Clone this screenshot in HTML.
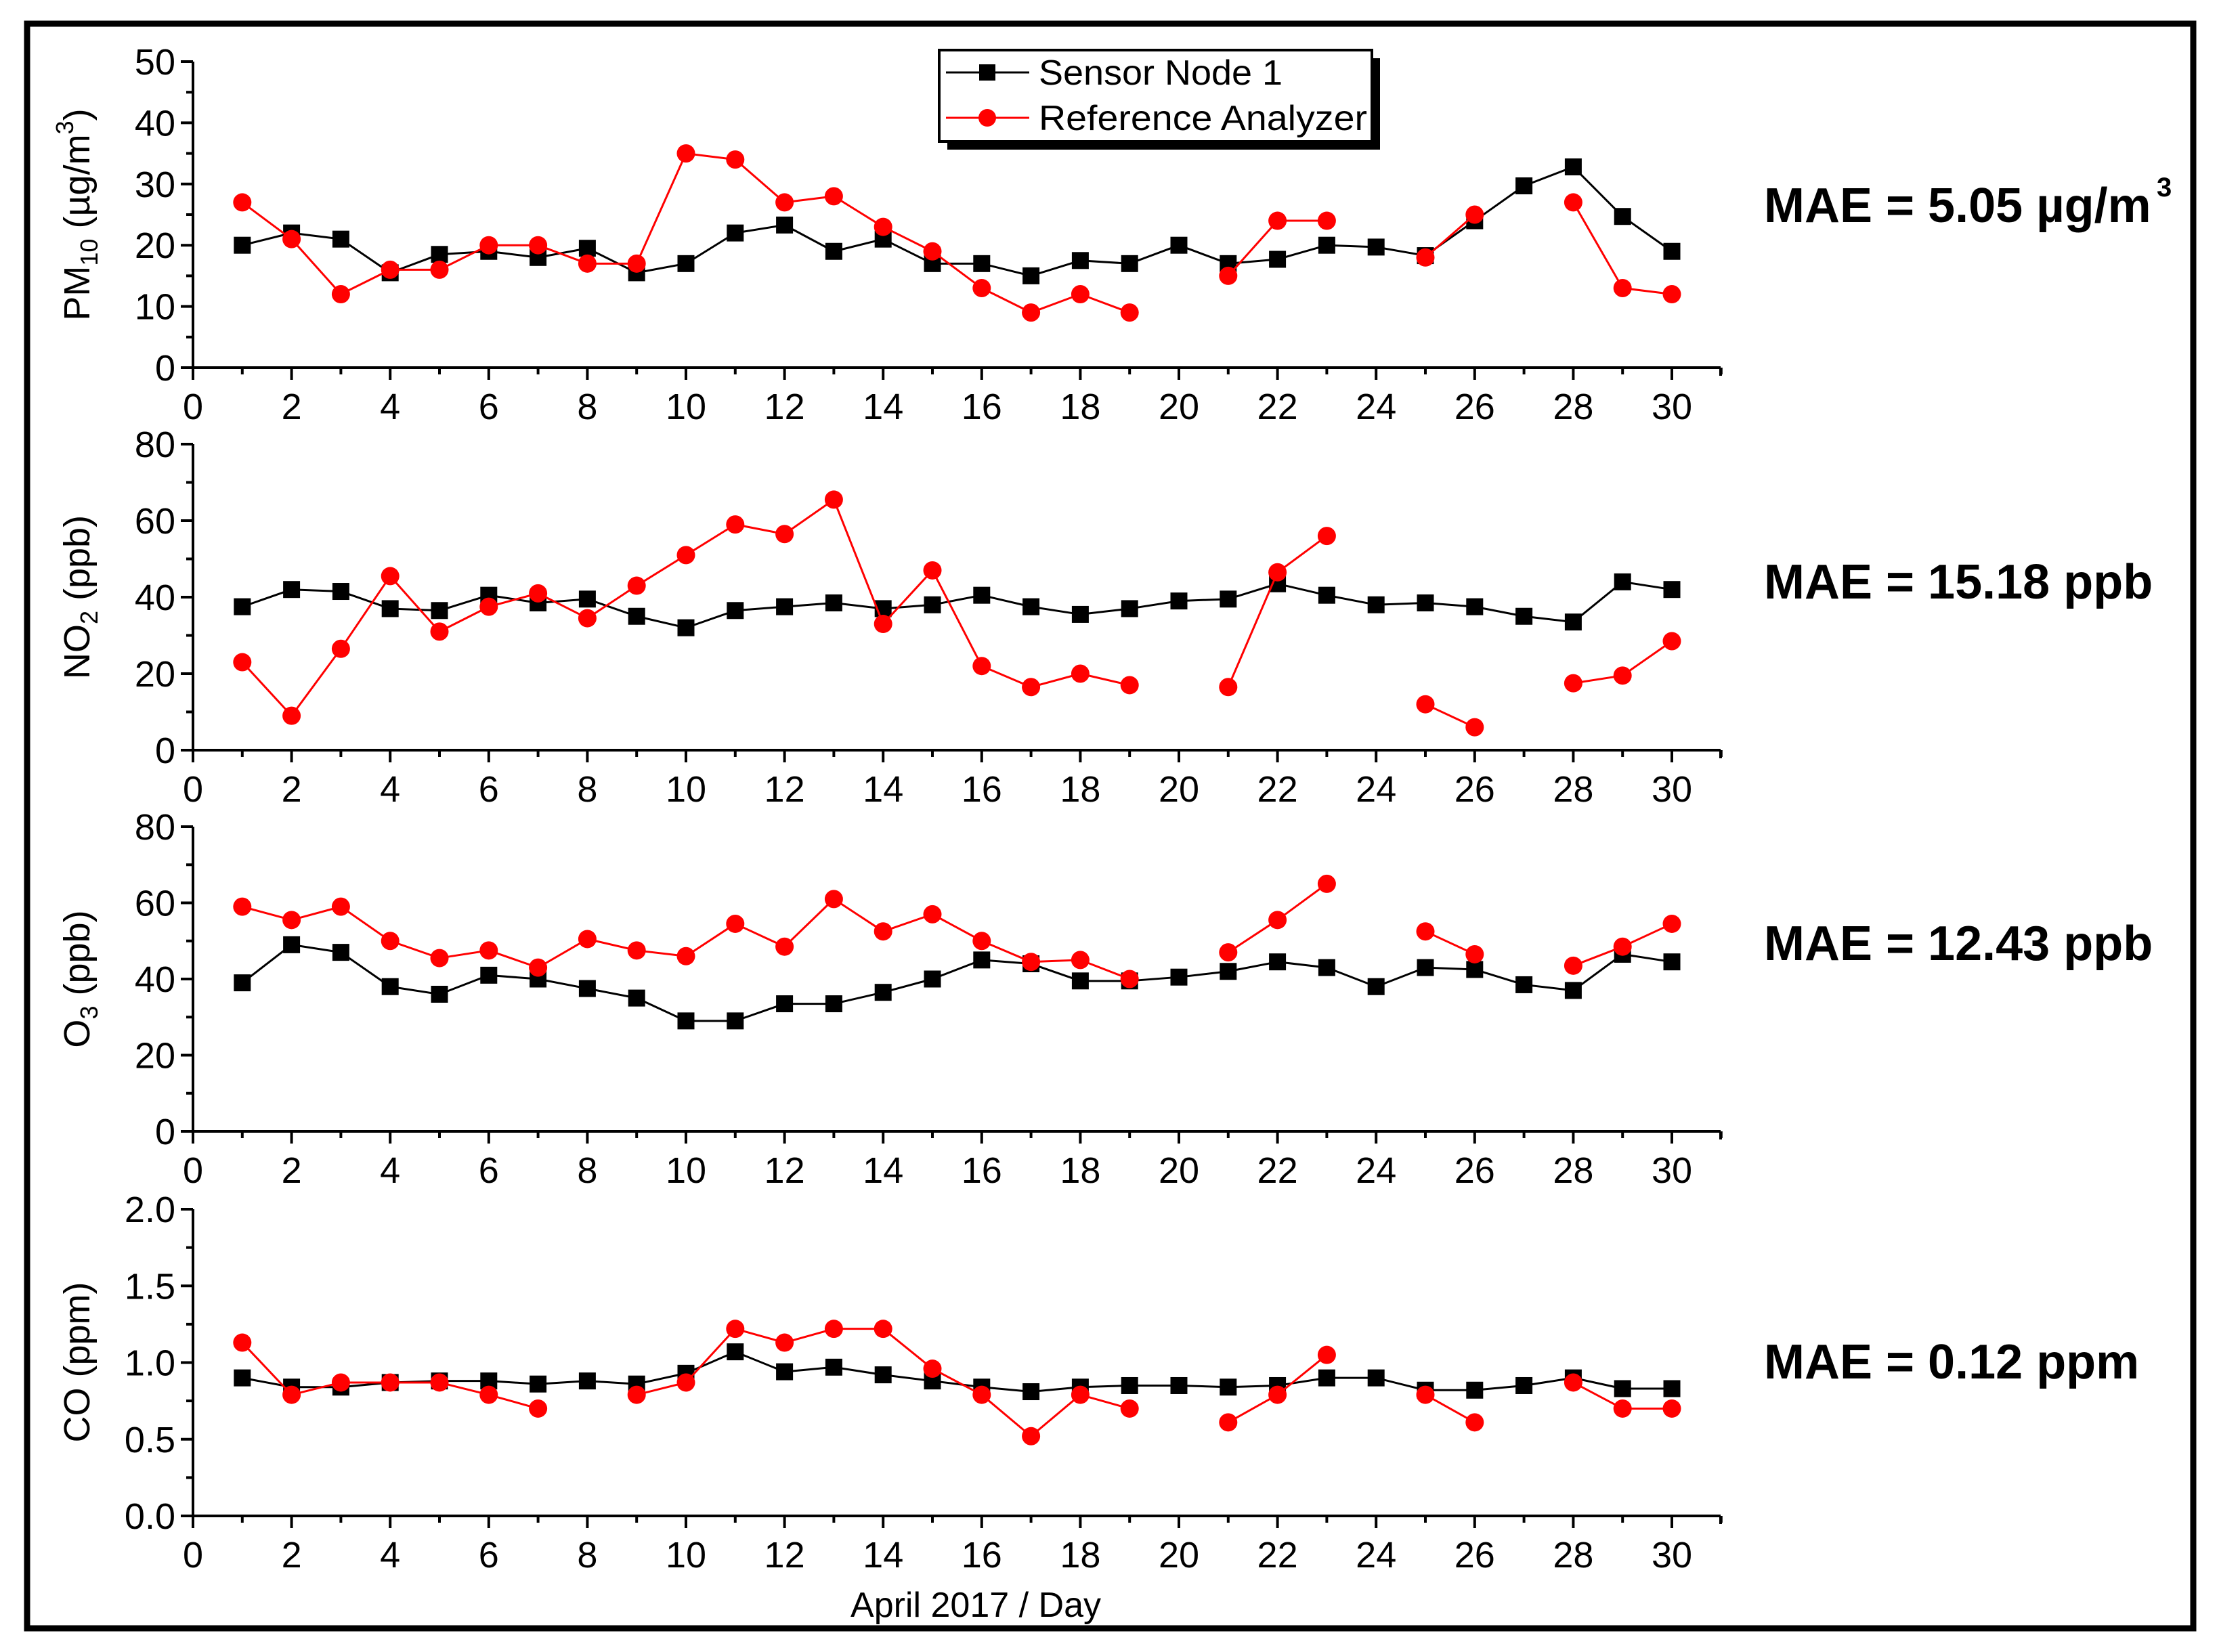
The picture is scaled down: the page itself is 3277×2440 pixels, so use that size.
<!DOCTYPE html>
<html><head><meta charset="utf-8"><style>
html,body{margin:0;padding:0;background:#fff;}
svg{display:block;font-family:"Liberation Sans",Arial,sans-serif;}
</style></head><body>
<svg id="chart" width="3277" height="2440" viewBox="0 0 3277 2440" xmlns="http://www.w3.org/2000/svg">
<rect x="40" y="35" width="3199" height="2370" fill="none" stroke="#000" stroke-width="9"/>
<g id="plots"></g>
<text x="1441" y="2388" font-size="52" text-anchor="middle">April 2017 / Day</text>
<g>
<rect x="1399" y="86" width="639" height="135" fill="#000"/>
<rect x="1387" y="74" width="639" height="135" fill="#fff" stroke="#000" stroke-width="4"/>
<line x1="1397" y1="107" x2="1520" y2="107" stroke="#000" stroke-width="3"/>
<rect x="1446" y="95" width="24" height="24" fill="#000"/>
<text x="1534" y="125" font-size="52" textLength="360" lengthAdjust="spacingAndGlyphs">Sensor Node 1</text>
<line x1="1397" y1="174" x2="1520" y2="174" stroke="#f00" stroke-width="3"/>
<circle cx="1458" cy="174" r="13" fill="#f00"/>
<text x="1534" y="192" font-size="52" textLength="485" lengthAdjust="spacingAndGlyphs">Reference Analyzer</text>
</g>
</svg>
<script>
const days = [1,2,3,4,5,6,7,8,9,10,11,12,13,14,15,16,17,18,19,20,21,22,23,24,25,26,27,28,29,30];
const xTicks = [0,2,4,6,8,10,12,14,16,18,20,22,24,26,28,30];
const pmSensor = [20,22,21,15.5,18.5,19,18,19.5,15.5,17,22,23.3,19,21,17,17,15,17.5,17,20,17,17.7,20,19.7,18.3,24,29.7,32.8,24.7,19];
const pmRef = [27,21,12,16,16,20,20,17,17,35,34,27,28,23,19,13,9,12,9,null,15,24,24,null,18,25,null,27,13,12];
const no2Sensor = [37.5,42,41.5,37,36.5,40.5,38.5,39.5,35,32,36.5,37.5,38.5,37,38,40.5,37.5,35.5,37,39,39.5,43.5,40.5,38,38.5,37.5,35,33.5,44,42];
const no2Ref = [23,9,26.5,45.5,31,37.5,41,34.5,43,51,59,56.5,65.5,33,47,22,16.5,20,17,null,16.5,46.5,56,null,12,6,null,17.5,19.5,28.5];
const o3Sensor = [39,49,47,38,36,41,40,37.5,35,29,29,33.5,33.5,36.5,40,45,44,39.5,39.5,40.5,42,44.5,43,38,43,42.5,38.5,37,46.5,44.5];
const o3Ref = [59,55.5,59,50,45.5,47.5,43,50.5,47.5,46,54.5,48.5,61,52.5,57,50,44.5,45,40,null,47,55.5,65,null,52.5,46.5,null,43.5,48.5,54.5];
const coSensor = [0.9,0.84,0.84,0.87,0.88,0.88,0.86,0.88,0.86,0.93,1.07,0.94,0.97,0.92,0.88,0.84,0.81,0.84,0.85,0.85,0.84,0.85,0.9,0.9,0.82,0.82,0.85,0.9,0.83,0.83];
const coRef = [1.13,0.79,0.87,0.87,0.87,0.79,0.7,null,0.79,0.87,1.22,1.13,1.22,1.22,0.96,0.79,0.52,0.79,0.7,null,0.61,0.79,1.05,null,0.79,0.61,null,0.87,0.7,0.7];
const pmTicks = ["0","10","20","30","40","50"];
const no2Ticks = ["0","20","40","60","80"];
const o3Ticks = ["0","20","40","60","80"];
const coTicks = ["0.0","0.5","1.0","1.5","2.0"];

const NS="http://www.w3.org/2000/svg";
const root=document.getElementById('plots');
function mk(tag,attrs,parent){const e=document.createElementNS(NS,tag);for(const k in attrs)e.setAttribute(k,attrs[k]);parent.appendChild(e);return e;}
const X0=285, DX=72.8, XEND=2541;
function xs(d){return X0+d*DX;}

const panels=[
 {name:'pm10',top:91,bot:543,ticks:pmTicks,max:50,s:pmSensor,r:pmRef,mae:'MAE = 5.05 µg/m',sup:true,maeY:328},
 {name:'no2',top:656,bot:1108,ticks:no2Ticks,max:80,s:no2Sensor,r:no2Ref,mae:'MAE = 15.18 ppb',maeY:884},
 {name:'o3',top:1221,bot:1671,ticks:o3Ticks,max:80,s:o3Sensor,r:o3Ref,mae:'MAE = 12.43 ppb',maeY:1418},
 {name:'co',top:1786,bot:2239,ticks:coTicks,max:2,s:coSensor,r:coRef,mae:'MAE = 0.12 ppm',maeY:2036}
];
panels.forEach(p=>{
 const g=mk('g',{},root);
 
 
 const ys=v=>p.bot-(v/p.max)*(p.bot-p.top);
 const ya=mk('line',{x1:X0,y1:p.top,x2:X0,y2:p.bot+2,stroke:'#000','stroke-width':4},g);
 
 
 const xa=mk('line',{x1:X0-2,y1:p.bot,x2:XEND,y2:p.bot,stroke:'#000','stroke-width':4},g);
 
 
 const n=p.ticks.length;
 for(let i=0;i<n;i++){
  const v=p.max*i/(n-1), y=ys(v);
  mk('line',{x1:X0-18,y1:y,x2:X0,y2:y,stroke:'#000','stroke-width':4},g);
  const t=mk('text',{x:X0-26,y:y+19,'font-size':54,'text-anchor':'end'},g);
  t.textContent=p.ticks[i];
  
  
  if(i<n-1){const ym=ys(v+p.max/(n-1)/2);mk('line',{x1:X0-10,y1:ym,x2:X0,y2:ym,stroke:'#000','stroke-width':4},g);}
 }
 for(let d=0;d<=31;d++){
  const x=xs(d);
  mk('line',{x1:x,y1:p.bot,x2:x,y2:p.bot+(d%2===0?18:10),stroke:'#000','stroke-width':4},g);
 }
 mk('line',{x1:XEND,y1:p.bot,x2:XEND,y2:p.bot+12,stroke:'#000','stroke-width':4},g);
 xTicks.forEach(d=>{
  const t=mk('text',{x:xs(d),y:p.bot+76,'font-size':54,'text-anchor':'middle'},g);
  t.textContent=d;
  
  
 });
 function series(vals,color,kind){
  const sg=mk('g',{},g);
  
  
  for(let i=0;i<vals.length-1;i++){
   if(vals[i]==null||vals[i+1]==null)continue;
   mk('line',{x1:xs(days[i]),y1:ys(vals[i]),x2:xs(days[i+1]),y2:ys(vals[i+1]),stroke:color,'stroke-width':3},sg);
  }
  vals.forEach((v,i)=>{
   if(v==null)return;
   let m;
   if(kind==='sensor'){m=mk('rect',{x:xs(days[i])-12.5,y:ys(v)-12.5,width:25,height:25,fill:color},sg);}
   else{m=mk('circle',{cx:xs(days[i]),cy:ys(v),r:13.5,fill:color},sg);}
   
   
  });
 }
 series(p.s,'#000','sensor');
 series(p.r,'#f00','reference');
 const mt=mk('text',{x:2605,y:p.maeY,'font-size':72,'font-weight':'bold'},g);
 mt.textContent=p.mae;
 
 
 if(p.sup){const s=mk('text',{x:3185,y:p.maeY-38,'font-size':40,'font-weight':'bold'},g);s.textContent='3';}
});
function ytitle(name,cy,parts){
 const t=mk('text',{transform:`translate(132,${cy}) rotate(-90)`,'font-size':54,'text-anchor':'middle'},root);
 
 
 parts.forEach(([s,sub,sup])=>{const ts=mk('tspan',sub?{'font-size':36,dy:12}:sup?{'font-size':36,dy:-24}:{dy:0},t);ts.textContent=s;
  if(sub||sup){const r=mk('tspan',{'font-size':54,dy:sub?-12:24},t);r.textContent='\u200b';}});
}
ytitle('pm10-y-axis-title',317,[['PM'],['10',true],[' (µg/m'],['3',false,true],[')']]);
ytitle('no2-y-axis-title',882,[['NO'],['2',true],[' (ppb)']]);
ytitle('o3-y-axis-title',1446,[['O'],['3',true],[' (ppb)']]);
ytitle('co-y-axis-title',2012,[['CO (ppm)']]);
</script>
</body></html>
